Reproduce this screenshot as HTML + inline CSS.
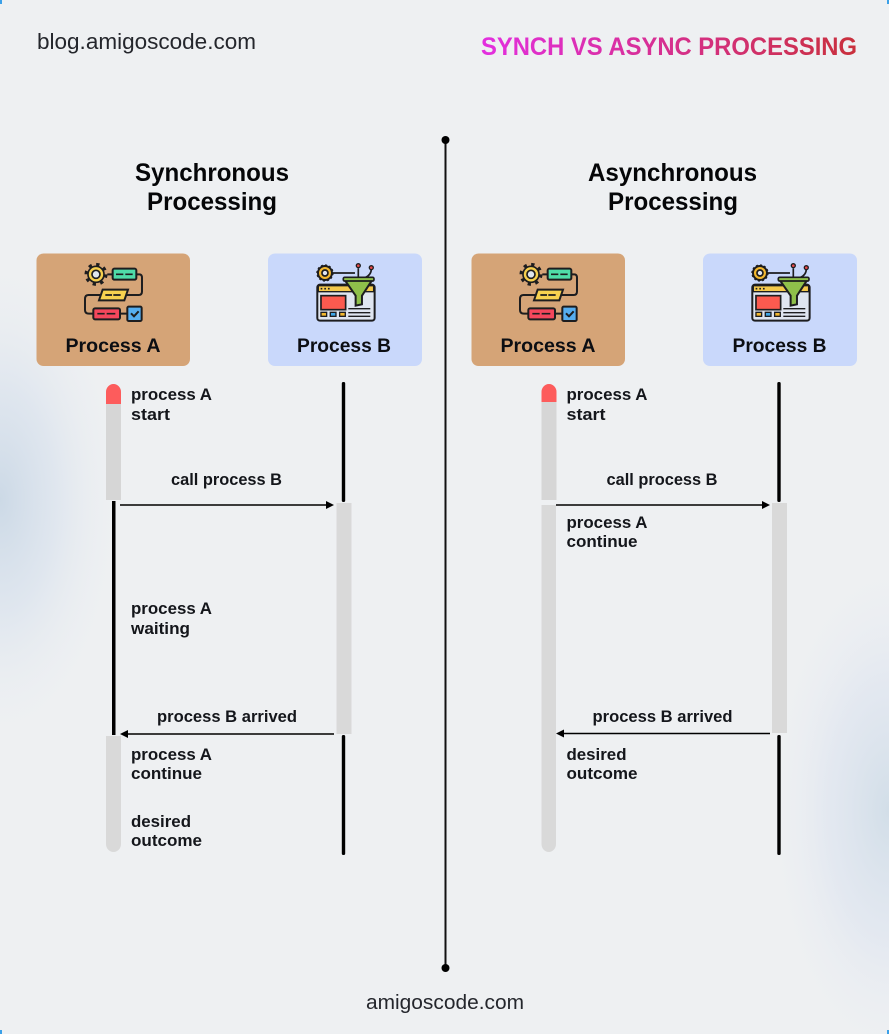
<!DOCTYPE html>
<html><head><meta charset="utf-8"><style>
html,body{margin:0;padding:0;background:#eef0f2}
svg{display:block}
text{font-family:"Liberation Sans",sans-serif;fill:#111318}
.l{font-size:16.5px;font-weight:700;fill:#14161b}
.c{font-size:19px;font-weight:700;fill:#0c0e13}
.h{font-size:25px;font-weight:700;fill:#050608}
</style></head><body>
<svg width="889" height="1034" viewBox="0 0 889 1034" xmlns="http://www.w3.org/2000/svg">
<defs>
<radialGradient id="g1" gradientUnits="userSpaceOnUse" cx="0" cy="0" r="1" gradientTransform="translate(0 500) scale(125 250)">
<stop offset="0" stop-color="#ccd9e6"/><stop offset=".45" stop-color="#dce4ee" stop-opacity=".8"/><stop offset="1" stop-color="#eef0f2" stop-opacity="0"/></radialGradient>
<radialGradient id="g2" gradientUnits="userSpaceOnUse" cx="0" cy="0" r="1" gradientTransform="translate(889 810) scale(125 260)">
<stop offset="0" stop-color="#d2dee8"/><stop offset=".5" stop-color="#e0e6f0" stop-opacity=".75"/><stop offset="1" stop-color="#eef0f2" stop-opacity="0"/></radialGradient>
<linearGradient id="tg" gradientUnits="userSpaceOnUse" x1="481" y1="0" x2="857" y2="0"><stop offset="0" stop-color="#e32fe0"/><stop offset="1" stop-color="#c9303c"/></linearGradient>

<g id="iconA" transform="translate(30 245) scale(.3333)">
<path d="M320 88H328Q336 88 336 98V140Q336 150 326 150H290M210 150H175Q165 150 165 162V195Q165 206 177 206H190M270 206H292M232 88H248" fill="none" stroke="#1d1d1f" stroke-width="6"/>
<circle cx="198" cy="88" r="24" fill="#f6cf4e" stroke="#1d1d1f" stroke-width="5"/>
<circle cx="198" cy="88" r="30" fill="none" stroke="#1d1d1f" stroke-width="9" stroke-dasharray="10 13.5"/>
<circle cx="198" cy="88" r="12" fill="#dfe6ee" stroke="#1d1d1f" stroke-width="5"/>
<rect x="248" y="71" width="71" height="33" rx="5" fill="#4fdca8" stroke="#1d1d1f" stroke-width="6"/>
<path d="M258 88h22M286 88h22" stroke="#1d1d1f" stroke-width="5"/>
<path d="M218 134H294L283 166H207Z" fill="#f8d24f" stroke="#1d1d1f" stroke-width="6"/>
<path d="M226 150h20M250 150h22" stroke="#1d1d1f" stroke-width="5"/>
<rect x="190" y="190" width="80" height="33" rx="5" fill="#f4475c" stroke="#1d1d1f" stroke-width="6"/>
<path d="M202 206h22M230 206h26" stroke="#1d1d1f" stroke-width="5"/>
<rect x="292" y="185" width="43" height="43" rx="4" fill="#56aef0" stroke="#1d1d1f" stroke-width="6"/>
<path d="M303 205l9 9 14-15" fill="none" stroke="#1d1d1f" stroke-width="6"/>
</g>

<g id="iconB" transform="translate(30 245) scale(.3333)">
<path d="M905 84H975M985 70V98M1024 72Q1024 90 1005 98" fill="none" stroke="#1d1d1f" stroke-width="5"/>
<circle cx="985" cy="62" r="6" fill="#ea4b4b" stroke="#1d1d1f" stroke-width="4"/>
<circle cx="1024" cy="68" r="6" fill="#ea4b4b" stroke="#1d1d1f" stroke-width="4"/>
<rect x="862" y="119" width="172" height="108" rx="8" fill="#dfe5f0" stroke="#1d1d1f" stroke-width="6"/>
<path d="M865 122H1031V140H865Z" fill="#f4c94c" stroke="#1d1d1f" stroke-width="4"/>
<path d="M872 131h5M883 131h5M894 131h5" stroke="#1d1d1f" stroke-width="5"/>
<circle cx="885" cy="84" r="21" fill="#f3b82f" stroke="#1d1d1f" stroke-width="6"/>
<circle cx="885" cy="84" r="24" fill="none" stroke="#1d1d1f" stroke-width="4" stroke-dasharray="6 6.5"/>
<circle cx="885" cy="84" r="9" fill="#dfe5f0" stroke="#1d1d1f" stroke-width="5"/>
<rect x="873" y="152" width="74" height="42" fill="#fb5a4f" stroke="#1d1d1f" stroke-width="5"/>
<rect x="873" y="202" width="17" height="12" fill="#f3b82f" stroke="#1d1d1f" stroke-width="4"/>
<rect x="901" y="202" width="17" height="12" fill="#3fa6e6" stroke="#1d1d1f" stroke-width="4"/>
<rect x="929" y="202" width="17" height="12" fill="#f3b82f" stroke="#1d1d1f" stroke-width="4"/>
<path d="M955 191h66M955 203h66M955 214h66" stroke="#1d1d1f" stroke-width="4"/>
<path d="M945 106H1026L996 152V178L977 182V152Z" fill="#8fc04a" stroke="#1d1d1f" stroke-width="6"/>
<rect x="940" y="97" width="92" height="11" rx="4" fill="#8fc04a" stroke="#1d1d1f" stroke-width="5"/>
</g>
</defs>

<rect width="889" height="1034" fill="#eef0f2"/>
<rect width="889" height="1034" fill="url(#g1)"/>
<rect width="889" height="1034" fill="url(#g2)"/>
<path d="M0 0h2v4h-2zM887 0h2v4h-2zM0 1030h2v4h-2zM887 1030h2v4h-2z" fill="#3aa0e8"/>

<text x="37" y="49" font-size="22" textLength="219" lengthAdjust="spacingAndGlyphs" style="fill:#24262c">blog.amigoscode.com</text>
<text x="481" y="55" font-size="25" font-weight="700" textLength="376" lengthAdjust="spacingAndGlyphs" style="fill:url(#tg)">SYNCH VS ASYNC PROCESSING</text>
<text x="366" y="1009" font-size="20" textLength="158" lengthAdjust="spacingAndGlyphs" style="fill:#24262c">amigoscode.com</text>

<line x1="445.5" y1="140" x2="445.5" y2="968" stroke="#111" stroke-width="2"/>
<circle cx="445.5" cy="140" r="4" fill="#000"/><circle cx="445.5" cy="968" r="4" fill="#000"/>

<text class="h" x="135" y="181" textLength="154" lengthAdjust="spacingAndGlyphs">Synchronous</text>
<text class="h" x="147" y="210" textLength="130" lengthAdjust="spacingAndGlyphs">Processing</text>
<text class="h" x="588" y="181" textLength="169" lengthAdjust="spacingAndGlyphs">Asynchronous</text>
<text class="h" x="608" y="210" textLength="130" lengthAdjust="spacingAndGlyphs">Processing</text>

<!-- cards -->
<rect x="36.5" y="253.5" width="153.5" height="112.5" rx="7" fill="#d5a477"/>
<rect x="268" y="253.5" width="154" height="112.5" rx="7" fill="#c9d8fb"/>
<rect x="471.5" y="253.5" width="153.5" height="112.5" rx="7" fill="#d5a477"/>
<rect x="703" y="253.5" width="154" height="112.5" rx="7" fill="#c9d8fb"/>
<use href="#iconA"/><use href="#iconB"/>
<use href="#iconA" transform="translate(435 0)"/><use href="#iconB" transform="translate(435 0)"/>
<text class="c" x="65.5" y="352" textLength="95" lengthAdjust="spacingAndGlyphs">Process A</text>
<text class="c" x="297" y="352" textLength="94" lengthAdjust="spacingAndGlyphs">Process B</text>
<text class="c" x="500.5" y="352" textLength="95" lengthAdjust="spacingAndGlyphs">Process A</text>
<text class="c" x="732.5" y="352" textLength="94" lengthAdjust="spacingAndGlyphs">Process B</text>

<!-- left sequence -->
<path d="M106 392a7.5 8 0 0 1 15 0V500H106Z" fill="#d6d6d6"/>
<path d="M106 392a7.5 8 0 0 1 15 0V404H106Z" fill="#fd5c5c"/>
<rect x="112" y="501" width="3.5" height="234" fill="#000"/>
<path d="M106 736H121V844a7.5 8 0 0 1-15 0Z" fill="#d9d9d9"/>
<rect x="341.8" y="382" width="3.4" height="120" rx="1.5" fill="#000"/>
<rect x="336.5" y="503" width="15" height="231" fill="#d9d9d9"/>
<rect x="341.8" y="735" width="3.4" height="120" rx="1.5" fill="#000"/>
<line x1="120" y1="505" x2="328" y2="505" stroke="#000" stroke-width="1.5"/>
<path d="M334 505l-8-4v8Z" fill="#000"/>
<line x1="334" y1="734" x2="126" y2="734" stroke="#000" stroke-width="1.5"/>
<path d="M120 734l8-4v8Z" fill="#000"/>

<!-- right sequence -->
<path d="M541.5 392a7.5 8 0 0 1 15 0V500H541.5Z" fill="#d6d6d6"/>
<path d="M541.5 392a7.5 8 0 0 1 15 0V402H541.5Z" fill="#fd5c5c"/>
<path d="M541.5 505H556V844a7.25 8 0 0 1-14.5 0Z" fill="#d9d9d9"/>
<rect x="777.3" y="382" width="3.4" height="120" rx="1.5" fill="#000"/>
<rect x="772" y="503" width="15" height="230" fill="#d9d9d9"/>
<rect x="777.3" y="735" width="3.4" height="120" rx="1.5" fill="#000"/>
<line x1="556" y1="505" x2="764" y2="505" stroke="#000" stroke-width="1.5"/>
<path d="M770 505l-8-4v8Z" fill="#000"/>
<line x1="770" y1="733.5" x2="562" y2="733.5" stroke="#000" stroke-width="1.5"/>
<path d="M556 733.5l8-4v8Z" fill="#000"/>

<!-- left labels -->
<text class="l" x="131" y="400" textLength="81" lengthAdjust="spacingAndGlyphs">process A</text>
<text class="l" x="131" y="420" textLength="39" lengthAdjust="spacingAndGlyphs">start</text>
<text class="l" x="171" y="485" textLength="111" lengthAdjust="spacingAndGlyphs">call process B</text>
<text class="l" x="131" y="614" textLength="81" lengthAdjust="spacingAndGlyphs">process A</text>
<text class="l" x="131" y="634" textLength="59" lengthAdjust="spacingAndGlyphs">waiting</text>
<text class="l" x="157" y="722" textLength="140" lengthAdjust="spacingAndGlyphs">process B arrived</text>
<text class="l" x="131" y="760" textLength="81" lengthAdjust="spacingAndGlyphs">process A</text>
<text class="l" x="131" y="779" textLength="71" lengthAdjust="spacingAndGlyphs">continue</text>
<text class="l" x="131" y="827" textLength="60" lengthAdjust="spacingAndGlyphs">desired</text>
<text class="l" x="131" y="846" textLength="71" lengthAdjust="spacingAndGlyphs">outcome</text>

<!-- right labels -->
<text class="l" x="566.5" y="400" textLength="81" lengthAdjust="spacingAndGlyphs">process A</text>
<text class="l" x="566.5" y="420" textLength="39" lengthAdjust="spacingAndGlyphs">start</text>
<text class="l" x="606.5" y="485" textLength="111" lengthAdjust="spacingAndGlyphs">call process B</text>
<text class="l" x="566.5" y="528" textLength="81" lengthAdjust="spacingAndGlyphs">process A</text>
<text class="l" x="566.5" y="547" textLength="71" lengthAdjust="spacingAndGlyphs">continue</text>
<text class="l" x="592.5" y="722" textLength="140" lengthAdjust="spacingAndGlyphs">process B arrived</text>
<text class="l" x="566.5" y="760" textLength="60" lengthAdjust="spacingAndGlyphs">desired</text>
<text class="l" x="566.5" y="779" textLength="71" lengthAdjust="spacingAndGlyphs">outcome</text>
</svg>
</body></html>
